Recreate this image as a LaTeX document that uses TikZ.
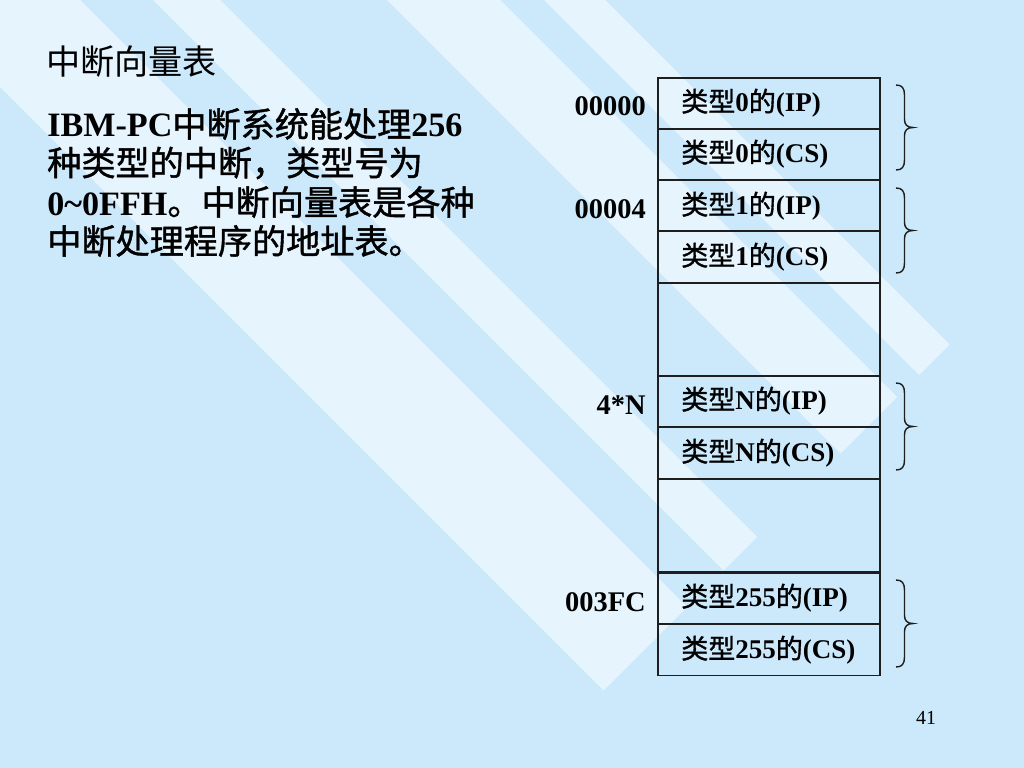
\documentclass[tikz,border=0pt]{standalone}
\usepackage{fontspec}
\setmainfont{Liberation Serif}
\newfontfamily\cjk{Noto Sans CJK SC}
\newfontfamily\cjkb[FakeBold=1.2]{Noto Sans CJK SC}
\definecolor{bgblue}{RGB}{204,233,252}
\definecolor{stripecol}{RGB}{230,244,253}
\definecolor{linecol}{RGB}{30,30,30}
\newcommand\zh[1]{{\cjkb\mdseries #1}}
\begin{document}
\begin{tikzpicture}[x=0.703125pt,y=-0.703125pt,
  pair/.style={draw=linecol, line width=1.4pt, minimum width=156.09pt, minimum height=35.86pt, anchor=north west, inner sep=0},
  gap/.style={draw=linecol, line width=1.4pt, minimum width=156.09pt, minimum height=65.7pt, anchor=north west, inner sep=0},
  celltext/.style={anchor=west, inner sep=0, font=\fontsize{19}{19}\selectfont\bfseries},
  addr/.style={anchor=east, inner sep=0, font=\fontsize{20}{20}\selectfont\bfseries},
  bodyline/.style={anchor=west, inner sep=0, font=\fontsize{24}{24}\selectfont\bfseries},
  bracecol/.style={draw=linecol, line width=1pt}]
\useasboundingbox (0,0) rectangle (1024,768);
\fill[bgblue] (0,0) rectangle (1024,768);
\begin{scope}
\clip (0,0) rectangle (1024,768);
\fill[stripecol] (-143.5,-56.5) -- (603.5,690.5) -- (687,607) -- (-60,-140) -- cycle;
\fill[stripecol] (-23.5,-176.5) -- (723.5,570.5) -- (757,537) -- (10,-210) -- cycle;
\fill[stripecol] (93.5,-293.5) -- (840.5,453.5) -- (897,397) -- (150,-350) -- cycle;
\fill[stripecol] (172,-372) -- (919,375) -- (949.5,344.5) -- (202.5,-402.5) -- cycle;
\end{scope}

% title and body
\node[anchor=west, inner sep=0, font=\fontsize{24}{24}\selectfont] (title) at (46,62) {{\cjk 中断向量表}};
\node[bodyline] (l1) at (47,124) {IBM-PC\zh{中断系统能处理}256};
\node[bodyline] (l2) at (47,163) {\zh{种类型的中断，类型号为}};
\node[bodyline] (l3) at (47,202) {0\symbol{126}0FFH\zh{。中断向量表是各种}};
\node[bodyline] (l4) at (47,241) {\zh{中断处理程序的地址表。}};

% table cells
\node[pair] (r1) at (657,77) {};
\node[pair] (r2) at (657,128) {};
\node[pair] (r3) at (657,179.5) {};
\node[pair] (r4) at (657,230.5) {};
\node[gap]  (g1) at (657,282) {};
\node[pair] (r5) at (657,375) {};
\node[pair] (r6) at (657,426.5) {};
\node[gap]  (g2) at (657,478) {};
\node[pair] (r7) at (657,572) {};
\node[pair] (r8) at (657,623.5) {};

\node[celltext] (t1) at (681,103) {\zh{类型}0\zh{的}(IP)};
\node[celltext] (t2) at (681,154) {\zh{类型}0\zh{的}(CS)};
\node[celltext] (t3) at (681,206) {\zh{类型}1\zh{的}(IP)};
\node[celltext] (t4) at (681,257) {\zh{类型}1\zh{的}(CS)};
\node[celltext] (t5) at (681,401) {\zh{类型}N\zh{的}(IP)};
\node[celltext] (t6) at (681,453) {\zh{类型}N\zh{的}(CS)};
\node[celltext] (t7) at (681,598) {\zh{类型}255\zh{的}(IP)};
\node[celltext] (t8) at (681,650) {\zh{类型}255\zh{的}(CS)};

\node[addr] (a1) at (646,106) {00000};
\node[addr] (a2) at (646,209) {00004};
\node[addr] (a3) at (646,405) {4*N};
\node[addr] (a4) at (646,602) {003FC};

% braces
\foreach \T/\B in {85/170, 188/273, 383/470, 580/667}{
  \pgfmathsetmacro{\M}{(\T+\B)/2}
  \draw[bracecol] (896,\T) .. controls (902,\T) and (904.5,\T+3) .. (904.5,\T+10)
    -- (904.5,\M-8) .. controls (904.5,\M-3) and (907,\M) .. (913,\M)
    .. controls (907,\M) and (904.5,\M+3) .. (904.5,\M+8)
    -- (904.5,\B-10) .. controls (904.5,\B-3) and (902,\B) .. (896,\B);
}

\node[anchor=center, inner sep=0, font=\fontsize{14}{14}\selectfont] (pg) at (926,718) {41};
\end{tikzpicture}
\end{document}
